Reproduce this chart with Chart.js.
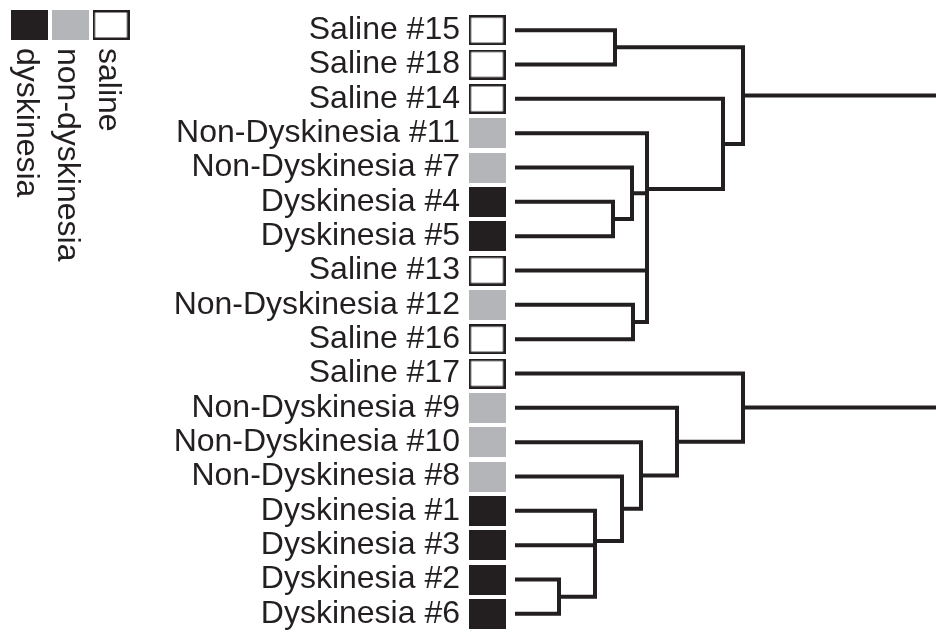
<!DOCTYPE html>
<html>
<head>
<meta charset="utf-8">
<script src="https://cdn.jsdelivr.net/npm/chart.js@4.4.1/dist/chart.umd.min.js"></script>
<style>
  html, body { margin: 0; padding: 0; background: #fff; }
</style>
</head>
<body>
<canvas id="dendro" width="936" height="632"></canvas>
<script>
// leaves, top to bottom
const leafLabels = [
    'Saline #15', 'Saline #18', 'Saline #14', 'Non-Dyskinesia #11', 'Non-Dyskinesia #7',
    'Dyskinesia #4', 'Dyskinesia #5', 'Saline #13', 'Non-Dyskinesia #12', 'Saline #16',
    'Saline #17', 'Non-Dyskinesia #9', 'Non-Dyskinesia #10', 'Non-Dyskinesia #8',
    'Dyskinesia #1', 'Dyskinesia #3', 'Dyskinesia #2', 'Dyskinesia #6',
];
const leafGroups = [
    'saline', 'saline', 'saline', 'non-dyskinesia', 'non-dyskinesia',
    'dyskinesia', 'dyskinesia', 'saline', 'non-dyskinesia', 'saline',
    'saline', 'non-dyskinesia', 'non-dyskinesia', 'non-dyskinesia',
    'dyskinesia', 'dyskinesia', 'dyskinesia', 'dyskinesia',
];

// linkage: merge k creates node 18 + k from two earlier nodes
const mergeLeft   = [0,    5,    4,    8,    7,    20,   3,    2,    18,   16,   15,   14,   13,   12,   11,   10,   26];
const mergeRight  = [1,    6,    19,   9,    21,   22,   23,   24,   25,   17,   27,   28,   29,   30,   31,   32,   33];
const mergeHeight = [1.00, 0.98, 1.17, 1.18, 1.32, 1.32, 1.32, 2.08, 2.28, 0.44, 0.80, 0.80, 1.07, 1.26, 1.62, 2.28, 4.60];

const legendGroups = ['dyskinesia', 'non-dyskinesia', 'saline'];

const INK = '#231f20';
const GREY = '#b3b5b8';
const FONT = '"Liberation Sans", Arial, sans-serif';

function makeBox(fill, stroke) {
    const c = document.createElement('canvas');
    c.width = 37;
    c.height = 30;
    const g = c.getContext('2d');
    g.fillStyle = fill;
    g.fillRect(0, 0, 37, 30);
    if (stroke) {
        g.strokeStyle = stroke;
        g.lineWidth = 2.5;
        g.strokeRect(1.25, 1.25, 34.5, 27.5);
    }
    return c;
}

const boxImg = {
    'saline': makeBox('#ffffff', INK),
    'non-dyskinesia': makeBox(GREY),
    'dyskinesia': makeBox(INK),
};

// node positions: leaves sit at height 0, merges halfway between their children
const nodeY = leafLabels.map((_, i) => i);
const nodeH = leafLabels.map(() => 0);
mergeLeft.forEach((l, k) => {
    nodeY.push((nodeY[l] + nodeY[mergeRight[k]]) / 2);
    nodeH.push(mergeHeight[k]);
});

const treeSets = mergeLeft.map((l, k) => {
    const r = mergeRight[k];
    const h = mergeHeight[k];
    return {
        data: [
            { x: nodeH[l], y: nodeY[l] },
            { x: h, y: nodeY[l] },
            { x: h, y: nodeY[r] },
            { x: nodeH[r], y: nodeY[r] },
        ],
        borderColor: INK,
        borderWidth: 4,
        borderJoinStyle: 'miter',
        borderCapStyle: 'butt',
        pointRadius: 0,
        tension: 0,
        fill: false,
    };
});

const boxSets = Object.keys(boxImg).map(g => ({
    data: leafGroups.map((lg, i) => (lg === g ? { x: -0.28, y: i } : null)).filter(Boolean),
    showLine: false,
    pointStyle: boxImg[g],
    pointRadius: 4,
    clip: false,
}));

const legendPlugin = {
    id: 'groupLegend',
    afterDraw(chart) {
        const ctx = chart.ctx;
        legendGroups.forEach((g, i) => {
            const cx = 29 + 41 * i;
            ctx.drawImage(boxImg[g], cx - 18.5, 10);
            ctx.save();
            ctx.translate(cx - 12, 48);
            ctx.rotate(Math.PI / 2);
            ctx.fillStyle = INK;
            ctx.font = '32px ' + FONT;
            ctx.textAlign = 'left';
            ctx.textBaseline = 'alphabetic';
            ctx.fillText(g, 0, 0);
            ctx.restore();
        });
    },
};

new Chart(document.getElementById('dendro'), {
    type: 'line',
    data: { datasets: [...treeSets, ...boxSets] },
    options: {
        responsive: false,
        animation: false,
        devicePixelRatio: 1,
        layout: { autoPadding: false, padding: { top: 13, bottom: 1, left: 0, right: 0 } },
        plugins: { legend: { display: false }, tooltip: { enabled: false } },
        scales: {
            x: { type: 'linear', min: -0.47, max: 4.21, display: false },
            y: {
                type: 'linear',
                min: -0.5,
                max: 17.5,
                reverse: true,
                afterFit: s => {
                    s.width = 468;
                    s.paddingTop = 0;
                    s.paddingBottom = 0;
                },
                afterBuildTicks: s => { s.ticks = leafLabels.map((_, i) => ({ value: i })); },
                grid: { display: false, drawTicks: false },
                border: { display: false },
                ticks: {
                    autoSkip: false,
                    padding: 8,
                    color: INK,
                    font: { family: FONT, size: 32, lineHeight: 0.05 },
                    callback: v => leafLabels[v],
                },
            },
        },
    },
    plugins: [legendPlugin],
});
</script>
</body>
</html>
